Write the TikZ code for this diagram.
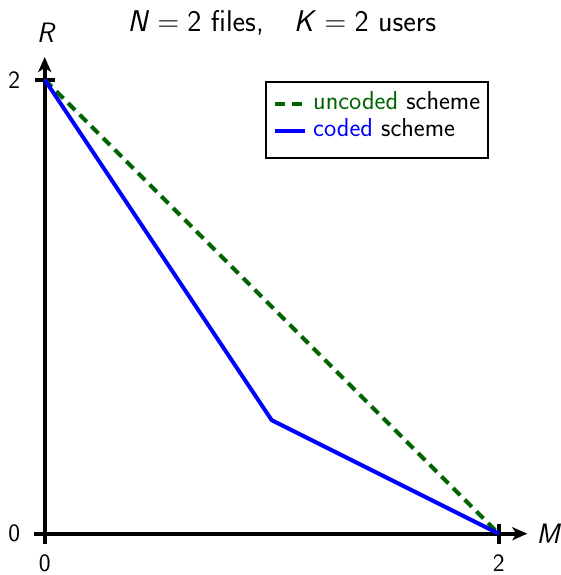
\RequirePackage{fix-cm}
\documentclass[tikz,border=0pt]{standalone}
\usetikzlibrary{arrows.meta}
\definecolor{uncodedgreen}{RGB}{0,100,0}
\definecolor{codedblue}{RGB}{0,0,255}
\newcommand{\fsz}[1]{\fontsize{#1}{#1}\selectfont}
\begin{document}
\begin{tikzpicture}[x=1pt,y=1pt,
  every node/.style={font=\sffamily\fsz{24}, inner sep=0pt},
  axisline/.style={line width=4.3pt, -{Stealth[length=15pt,width=13pt,inset=4pt]}},
  tickline/.style={line width=4.3pt},
  uncodedcurve/.style={uncodedgreen, line width=4pt, dash pattern=on 10pt off 6.5pt},
  codedcurve/.style={codedblue, line width=4pt, line join=round},
  legendframe/.style={draw=black, line width=1.6pt, fill=white, minimum width=222pt, minimum height=76pt},
  ticklabel/.style={font=\sffamily\fsz{25}},
  axislabel/.style={font=\sffamily\itshape\fsz{28}}]
\useasboundingbox (0,0) rectangle (560,575);

% data frame: origin and one unit = 227pt
\begin{scope}[shift={(44.7,41.3)}, x=227pt, y=227pt]
  \coordinate (O) at (0,0);
  \coordinate (xstart) at (-0.046,0);
  \coordinate (xend) at (2.126,0);
  \coordinate (ystart) at (0,-0.046);
  \coordinate (yend) at (0,2.1);
  \coordinate (A) at (0,2);
  \coordinate (B) at (1,0.5);
  \coordinate (C) at (2,0);

  % axes with arrows
  \draw[axisline] (xstart) -- (xend);
  \draw[axisline] (ystart) -- (yend);

  % ticks
  \draw[tickline] ([xshift=-10pt]A) -- ([xshift=10pt]A);
  \draw[tickline] ([yshift=-10pt]C) -- ([yshift=10pt]C);

  % tick labels
  \node[ticklabel] (ly2) at ([xshift=-30.5pt]A) {2};
  \node[ticklabel] (ly0) at ([xshift=-30.5pt]O) {0};
  \node[ticklabel] (lx0) at ([yshift=-29.5pt]O) {0};
  \node[ticklabel] (lx2) at ([yshift=-29.5pt]C) {2};

  % axis names
  \node[axislabel] (R) at (0.003,2.207) {R};
  \node[axislabel] (M) at (2.218,0) {M};

  % rate curves
  \draw[uncodedcurve] (A) -- (C);
  \draw[codedcurve] (A) -- (B) -- (C);

  % title
  \node[anchor=base, font=\sffamily\fsz{30}] (title) at (1.045,2.214)
    {\textit{N}${}={}$2 files,\quad \textit{K}${}={}$2 users};
\end{scope}

% legend
\node[legendframe, anchor=north west] (legend) at (265,494) {};
\coordinate (l1a) at (275,471);
\coordinate (l1b) at (305,471);
\coordinate (l2a) at (275,444);
\coordinate (l2b) at (305,444);
\draw[uncodedcurve, line width=3.5pt, dash pattern=on 10pt off 7pt] (l1a) -- (l1b);
\draw[codedcurve, line width=3.5pt] (l2a) -- (l2b);
\node[anchor=base west, font=\sffamily\fsz{26}] (t1) at (313,465)
  {\textcolor{uncodedgreen}{uncoded} scheme};
\node[anchor=base west, font=\sffamily\fsz{26}] (t2) at (313,438)
  {\textcolor{codedblue}{coded} scheme};
\end{tikzpicture}
\end{document}
